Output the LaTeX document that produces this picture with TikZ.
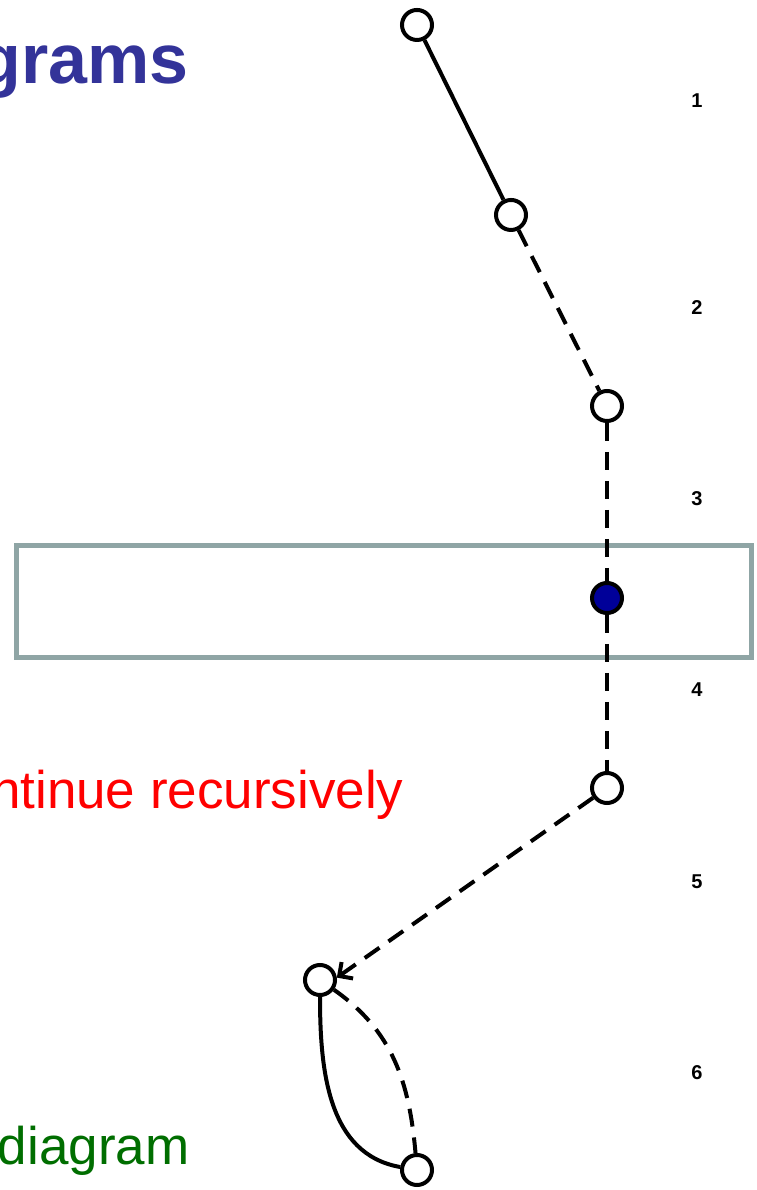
\documentclass[tikz,border=0pt]{standalone}
\usepackage{fontspec}
\setmainfont{Liberation Sans}
\usetikzlibrary{arrows.meta}

\definecolor{titleblue}{RGB}{51,51,153}
\definecolor{boxgray}{RGB}{143,165,165}
\definecolor{vertexblue}{RGB}{0,0,153}
\definecolor{darkgreen}{RGB}{0,110,0}

\begin{document}
\begin{tikzpicture}[
    x=1pt, y=1pt,
    vertex/.style={circle, draw, line width=4pt, minimum size=30pt, inner sep=0pt, fill=white},
    prop/.style={line width=4pt},
    ghost/.style={line width=4pt, dash pattern=on 18pt off 11pt},
    level/.style={font=\fontsize{20}{24}\selectfont\bfseries},
    arrow/.style={-{Straight Barb[length=10pt,width=20pt]}}
  ]
  \useasboundingbox (0,0) rectangle (756,1190);

  % slice box
  \draw[boxgray, line width=5pt] (16,532) rectangle (751,644);

  % texts
  \node[anchor=base east, text=titleblue, font=\fontsize{70}{80}\selectfont\bfseries] (title) at (192,1106) {grams};
  \node[anchor=base east, text=red, font=\fontsize{53}{60}\selectfont] (recur) at (407,381) {ntinue recursively};
  \node[anchor=base east, text=darkgreen, font=\fontsize{53}{60}\selectfont] (diag) at (193,25) {diagram};

  % vertices
  \node[vertex] (v1) at (417,1165) {};
  \node[vertex] (v2) at (511,975) {};
  \node[vertex] (v3) at (607,784) {};
  \node[vertex, fill=vertexblue] (v4) at (607,592) {};
  \node[vertex] (v5) at (607,402) {};
  \node[vertex] (v6) at (320,210) {};
  \node[vertex] (v7) at (417,20) {};

  % levels
  \foreach \n/\y in {1/1089,2/882,3/691,4/500,5/308,6/117}
    \node[level] (lvl\n) at (697,\y) {\n};

  % lines
  \draw[prop] (v1) -- (v2);
  \draw[ghost] (v2) -- (v3);
  \draw[ghost] (v3) -- (v4);
  \draw[ghost] (v4) -- (v5);
  \draw[ghost, arrow] (v5) -- (v6.8);
  \draw[prop] (v6) to[out=-90, in=170] (v7);
  \draw[ghost] (v6) to[out=-35, in=95] (v7);
\end{tikzpicture}
\end{document}
